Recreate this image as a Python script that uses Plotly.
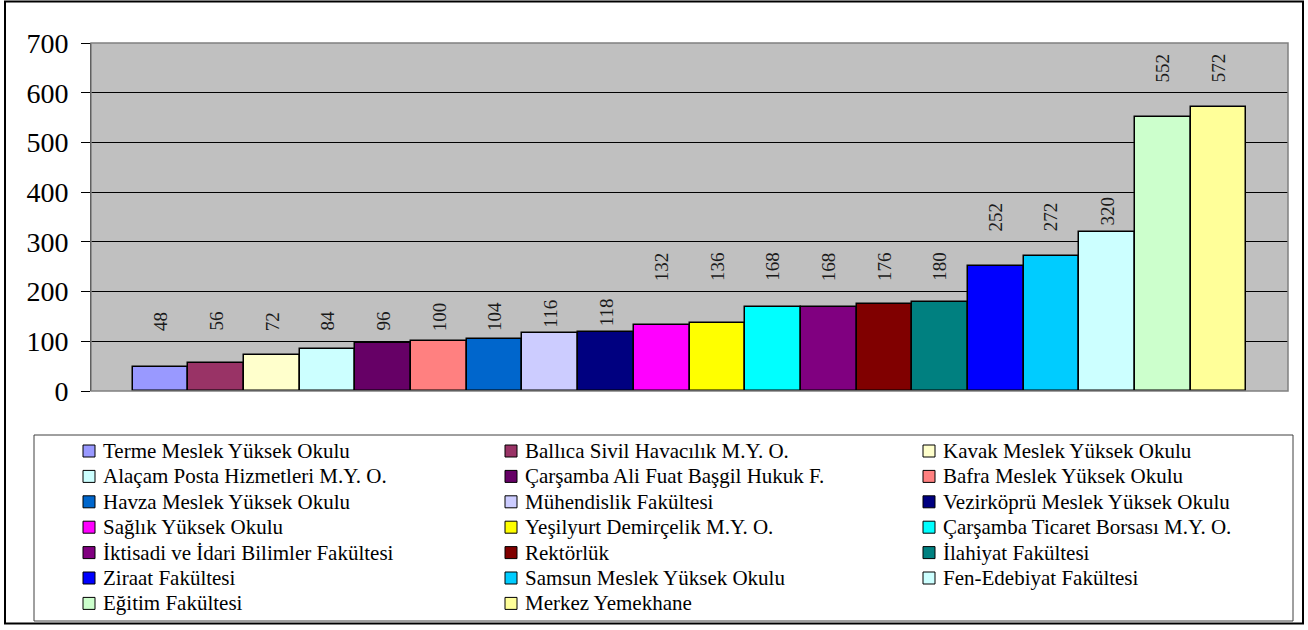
import math
import plotly.graph_objects as go

# ---------------- data ----------------
names = [
    "Terme Meslek Yüksek Okulu",
    "Ballıca Sivil Havacılık M.Y. O.",
    "Kavak Meslek Yüksek Okulu",
    "Alaçam Posta Hizmetleri M.Y. O.",
    "Çarşamba Ali Fuat Başgil Hukuk F.",
    "Bafra Meslek Yüksek Okulu",
    "Havza Meslek Yüksek Okulu",
    "Mühendislik Fakültesi",
    "Vezirköprü Meslek Yüksek Okulu",
    "Sağlık Yüksek Okulu",
    "Yeşilyurt Demirçelik M.Y. O.",
    "Çarşamba Ticaret Borsası M.Y. O.",
    "İktisadi ve İdari Bilimler Fakültesi",
    "Rektörlük",
    "İlahiyat Fakültesi",
    "Ziraat Fakültesi",
    "Samsun Meslek Yüksek Okulu",
    "Fen-Edebiyat Fakültesi",
    "Eğitim Fakültesi",
    "Merkez Yemekhane",
]
values = [48, 56, 72, 84, 96, 100, 104, 116, 118, 132,
          136, 168, 168, 176, 180, 252, 272, 320, 552, 572]
colors = [
    "#9999FF", "#993366", "#FFFFCC", "#CCFFFF", "#660066",
    "#FF8080", "#0066CC", "#CCCCFF", "#000080", "#FF00FF",
    "#FFFF00", "#00FFFF", "#800080", "#800000", "#008080",
    "#0000FF", "#00CCFF", "#CCFFFF", "#CCFFCC", "#FFFF99",
]
y_ticks = [0, 100, 200, 300, 400, 500, 600, 700]

# ---------------- layout geometry ----------------
W, H = 1308, 630
L, R, T, B = 91, 20, 43, 239
PW = W - L - R
PH = H - T - B


def px_x(px):
    return (px - L) / PW


def px_y(py):
    return (H - B - py) / PH


FONT = "Liberation Serif, Times New Roman, serif"

fig = go.Figure()
for n, v, c in zip(names, values, colors):
    fig.add_trace(go.Bar(
        x=[n], y=[v], name=n,
        marker=dict(color=c, line=dict(color="black", width=1.5)),
        showlegend=False,
    ))

# value labels (rotated, snapped to rows above the bars as in the original,
# but never touching their own bar)
for n, v in zip(names, values):
    label_base = max(math.floor((v + 70) / 100) * 100 + 17, v + 8)
    fig.add_annotation(
        x=n, y=label_base, text=str(v),
        textangle=-90, showarrow=False, xanchor="center", yanchor="bottom",
        font=dict(family=FONT, size=19, color="#1a1a1a"),
    )

# plot-area border (gray)
fig.add_shape(type="rect", xref="paper", yref="paper", x0=0, x1=1, y0=0, y1=1,
              line=dict(color="#808080", width=1.5), layer="above")

# outer chart border
fig.add_shape(type="rect", xref="paper", yref="paper",
              x0=px_x(5), x1=px_x(1303), y0=px_y(623.5), y1=px_y(1.5),
              line=dict(color="black", width=2))

# legend box
fig.add_shape(type="rect", xref="paper", yref="paper",
              x0=px_x(34), x1=px_x(1293), y0=px_y(621), y1=px_y(435),
              line=dict(color="#404040", width=1))

# legend entries (3 columns, row-major)
col_x = [83, 505, 923]
row0, dy = 451, 25.4
for i, (n, c) in enumerate(zip(names, colors)):
    r, k = divmod(i, 3)
    cx, cy = col_x[k], row0 + r * dy
    fig.add_shape(type="rect", xref="paper", yref="paper",
                  x0=px_x(cx), x1=px_x(cx + 12), y0=px_y(cy + 6), y1=px_y(cy - 6),
                  fillcolor=c, line=dict(color="black", width=1))
    fig.add_annotation(xref="paper", yref="paper", x=px_x(cx + 18), y=px_y(cy),
                       text=n, showarrow=False, xanchor="left", yanchor="middle",
                       font=dict(family=FONT, size=21, color="black"))

n_cat = len(names)
fig.update_layout(
    width=W, height=H,
    margin=dict(l=L, r=R, t=T, b=B, pad=0),
    paper_bgcolor="white",
    plot_bgcolor="#C0C0C0",
    barmode="overlay",
    bargap=0,
    showlegend=False,
    font=dict(family=FONT, color="black"),
    xaxis=dict(
        type="category", categoryorder="array", categoryarray=names,
        range=[-1.25, n_cat - 1 + 1.25],
        showticklabels=False, ticks="", showgrid=False, zeroline=False,
        showline=False, fixedrange=True,
    ),
    yaxis=dict(
        range=[0, 700], tickvals=y_ticks, ticktext=[str(t) for t in y_ticks],
        showgrid=True, gridcolor="black", gridwidth=1,
        zeroline=False, showline=True, linecolor="black", linewidth=1,
        ticks="outside", ticklen=9, tickcolor="black", tickwidth=1,
        ticklabelstandoff=7,
        tickfont=dict(family=FONT, size=28, color="black"),
        fixedrange=True,
    ),
)

fig.write_html(
    "out.html",
    config={"displayModeBar": False},
    post_script="document.body.style.margin='0px';",
)
